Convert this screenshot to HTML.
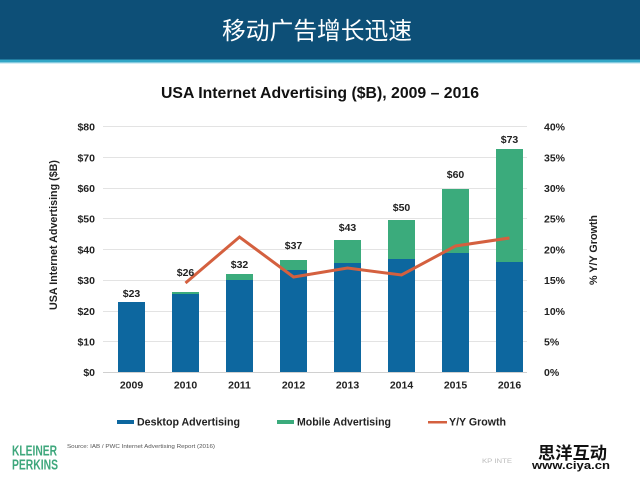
<!DOCTYPE html>
<html><head><meta charset="utf-8"><style>
html,body{margin:0;padding:0;background:#fff;}
svg{display:block;}
text{font-family:"Liberation Sans","Noto Sans CJK SC",sans-serif;}
</style></head><body>
<svg width="640" height="480" viewBox="0 0 640 480" xmlns="http://www.w3.org/2000/svg">
<rect width="640" height="480" fill="#fff"/>
<rect x="0" y="0" width="640" height="59.5" fill="#0d4f77"/>
<rect x="0" y="59.5" width="640" height="3" fill="#32a6c6"/>
<rect x="0" y="62.5" width="640" height="1.5" fill="#d6eef5"/>
<text x="317" y="39" font-size="24" fill="#fff" text-anchor="middle" font-family="'Liberation Sans','Noto Sans CJK SC',sans-serif" textLength="190" lengthAdjust="spacingAndGlyphs">移动广告增长迅速</text>
<text x="320" y="98" font-size="16" font-weight="bold" fill="#111" text-anchor="middle" textLength="318" lengthAdjust="spacingAndGlyphs">USA Internet Advertising ($B), 2009 – 2016</text>
<g stroke="#e3e3e3" stroke-width="1">
<line x1="103" x2="527" y1="126.5" y2="126.5"/>
<line x1="103" x2="527" y1="157.5" y2="157.5"/>
<line x1="103" x2="527" y1="188.5" y2="188.5"/>
<line x1="103" x2="527" y1="218.5" y2="218.5"/>
<line x1="103" x2="527" y1="249.5" y2="249.5"/>
<line x1="103" x2="527" y1="280.5" y2="280.5"/>
<line x1="103" x2="527" y1="311.5" y2="311.5"/>
<line x1="103" x2="527" y1="341.5" y2="341.5"/>
<line x1="103" x2="527" y1="372.5" y2="372.5" stroke="#d0d0d0"/>
</g>
<g font-size="10.5" font-weight="bold" fill="#222" text-anchor="end">
<text x="95" y="130.5">$80</text>
<text x="95" y="161.5">$70</text>
<text x="95" y="192">$60</text>
<text x="95" y="222.5">$50</text>
<text x="95" y="253.5">$40</text>
<text x="95" y="284">$30</text>
<text x="95" y="315">$20</text>
<text x="95" y="345.5">$10</text>
<text x="95" y="376">$0</text>
</g>
<g font-size="10.5" font-weight="bold" fill="#222" text-anchor="start">
<text x="544" y="130.5">40%</text>
<text x="544" y="161.5">35%</text>
<text x="544" y="192">30%</text>
<text x="544" y="222.5">25%</text>
<text x="544" y="253.5">20%</text>
<text x="544" y="284">15%</text>
<text x="544" y="315">10%</text>
<text x="544" y="345.5">5%</text>
<text x="544" y="376">0%</text>
</g>
<text transform="translate(57,235) rotate(-90)" font-size="11" font-weight="bold" fill="#222" text-anchor="middle" textLength="150" lengthAdjust="spacingAndGlyphs">USA Internet Advertising ($B)</text>
<text transform="translate(597,250) rotate(-90)" font-size="11" font-weight="bold" fill="#222" text-anchor="middle" textLength="70" lengthAdjust="spacingAndGlyphs">% Y/Y Growth</text>
<g fill="#0d679f">
<rect x="118" y="302" width="27" height="70"/>
<rect x="172" y="294" width="27" height="78"/>
<rect x="226" y="280" width="27" height="92"/>
<rect x="280" y="270" width="27" height="102"/>
<rect x="334" y="263" width="27" height="109"/>
<rect x="388" y="259" width="27" height="113"/>
<rect x="442" y="253" width="27" height="119"/>
<rect x="496" y="262" width="27" height="110"/>
</g>
<g fill="#3bab7c">
<rect x="172" y="292" width="27" height="2"/>
<rect x="226" y="274" width="27" height="6"/>
<rect x="280" y="260" width="27" height="10"/>
<rect x="334" y="240" width="27" height="23"/>
<rect x="388" y="220" width="27" height="39"/>
<rect x="442" y="189" width="27" height="64"/>
<rect x="496" y="149" width="27" height="113"/>
</g>
<polyline points="185.5,283 239.5,237 293.5,277 347.5,268 401.5,275 455.5,246 509.5,238" fill="none" stroke="#d4603f" stroke-width="3" stroke-linejoin="miter"/>
<g font-size="10.5" font-weight="bold" fill="#222" text-anchor="middle">
<text x="131.5" y="297">$23</text>
<text x="185.5" y="276">$26</text>
<text x="239.5" y="268">$32</text>
<text x="293.5" y="249">$37</text>
<text x="347.5" y="231">$43</text>
<text x="401.5" y="211">$50</text>
<text x="455.5" y="178">$60</text>
<text x="509.5" y="143">$73</text>
</g>
<g font-size="10.5" font-weight="bold" fill="#222" text-anchor="middle">
<text x="131.5" y="388.5">2009</text>
<text x="185.5" y="388.5">2010</text>
<text x="239.5" y="388.5">2011</text>
<text x="293.5" y="388.5">2012</text>
<text x="347.5" y="388.5">2013</text>
<text x="401.5" y="388.5">2014</text>
<text x="455.5" y="388.5">2015</text>
<text x="509.5" y="388.5">2016</text>
</g>
<rect x="117" y="420" width="17" height="4" fill="#0d679f"/>
<text x="137" y="425.5" font-size="11" font-weight="bold" fill="#222" textLength="103" lengthAdjust="spacingAndGlyphs">Desktop Advertising</text>
<rect x="277" y="420" width="17" height="4" fill="#3bab7c"/>
<text x="297" y="425.5" font-size="11" font-weight="bold" fill="#222" textLength="94" lengthAdjust="spacingAndGlyphs">Mobile Advertising</text>
<rect x="428" y="421" width="19" height="2.5" fill="#d4603f"/>
<text x="449" y="425.5" font-size="11" font-weight="bold" fill="#222" textLength="57" lengthAdjust="spacingAndGlyphs">Y/Y Growth</text>
<text x="12" y="455.5" font-size="15" font-weight="bold" fill="#3ea77c" textLength="45" lengthAdjust="spacingAndGlyphs">KLEINER</text>
<text x="12" y="469.5" font-size="15" font-weight="bold" fill="#3ea77c" textLength="46" lengthAdjust="spacingAndGlyphs">PERKINS</text>
<text x="67" y="448" font-size="5.5" fill="#555" textLength="148" lengthAdjust="spacingAndGlyphs">Source: IAB / PWC Internet Advertising Report (2016)</text>
<text x="482" y="463" font-size="6" fill="#bbb" textLength="30" lengthAdjust="spacingAndGlyphs">KP INTE</text>
<text x="538" y="459" font-size="17" font-weight="bold" fill="#111" stroke="#fff" stroke-width="2" paint-order="stroke" font-family="'Liberation Serif','Noto Serif CJK SC',serif" textLength="69" lengthAdjust="spacingAndGlyphs">思洋互动</text>
<text x="532" y="469" font-size="11" font-weight="bold" fill="#111" stroke="#fff" stroke-width="2" paint-order="stroke" textLength="78" lengthAdjust="spacingAndGlyphs">www.ciya.cn</text>
</svg>
</body></html>
